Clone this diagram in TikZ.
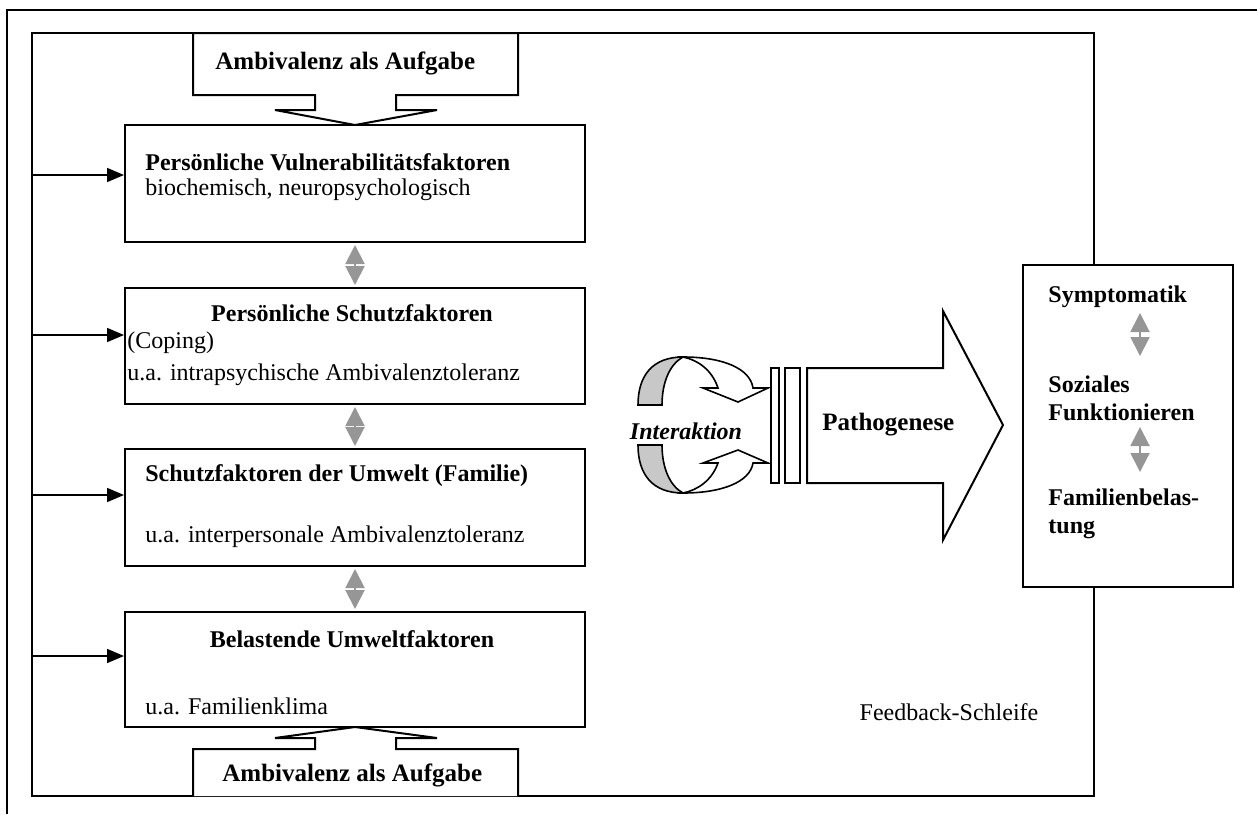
\documentclass[tikz,border=0pt]{standalone}
\usepackage{fontspec}
\setmainfont{Liberation Serif}
\usetikzlibrary{arrows.meta}
\definecolor{dgray}{RGB}{150,150,150}
\definecolor{cgray}{RGB}{200,200,200}
\begin{document}
\begin{tikzpicture}[x=0.5pt,y=-0.5pt,
  every node/.style={font=\fontsize{12}{14}\selectfont},
  box/.style={draw,line width=1pt,minimum width=230pt,inner sep=0pt},
  txt/.style={inner sep=0pt,anchor=west},
  bold/.style={font=\fontsize{12}{14}\selectfont\bfseries},
  btxt/.style={inner sep=0pt,bold},
  rtxt/.style={inner sep=0pt,anchor=base west,bold},
  dbl/.style={draw=dgray,line width=1pt,{Triangle[width=9.5pt,length=9.5pt]}-{Triangle[width=9.5pt,length=9.5pt]},dgray,shorten <=1pt,shorten >=1pt},
  fb/.style={line width=0.8pt,-{Triangle[width=7pt,length=8.5pt]}},
  frame/.style={line width=1pt}]
\useasboundingbox (0,0) rectangle (1257,814);
% outer page frame
\draw[frame] (7,814) -- (7,10) -- (1257,10);
% feedback loop frame
\coordinate (ftop) at (1094,33);
\coordinate (fbot) at (1094,796);
\draw[frame] (1094,265) -- (ftop) -- (32,33) -- (32,796) -- (fbot) -- (1094,587);
% factor boxes
\node[box,minimum height=58.5pt] (b1) at (355,183.5) {};
\node[box,minimum height=58pt] (b2) at (355,346) {};
\node[box,minimum height=58.5pt] (b3) at (355,507.5) {};
\node[box,minimum height=57.5pt] (b4) at (355,669.5) {};
% texts
\node[txt,bold] (t1) at (145,162) {Persönliche Vulnerabilitätsfaktoren};
\node[txt] (s1) at (145,190) {biochemisch, neuropsychologisch};
\node[btxt] (t2) at (352,313) {Persönliche Schutzfaktoren};
\node[txt] (c2) at (127,343) {(Coping)};
\node[txt] (s2) at (127,375) {u.a. intrapsychische Ambivalenztoleranz};
\node[txt,bold] (t3) at (145,476) {Schutzfaktoren der Umwelt (Familie)};
\node[txt] (s3) at (145,537) {u.a. interpersonale Ambivalenztoleranz};
\node[btxt] (t4) at (352,639) {Belastende Umweltfaktoren};
\node[txt] (s4) at (145,706) {u.a. Familienklima};
% grey double arrows
\draw[dbl] (b1.south) -- (b2.north);
\draw[dbl] (b2.south) -- (b3.north);
\draw[dbl] (b3.south) -- (b4.north);
% feedback arrows
\coordinate (f1) at (32,175);
\coordinate (f2) at (32,335);
\coordinate (f3) at (32,495);
\coordinate (f4) at (32,656);
\draw[fb] (f1) -- (f1 -| b1.west);
\draw[fb] (f2) -- (f2 -| b2.west);
\draw[fb] (f3) -- (f3 -| b3.west);
\draw[fb] (f4) -- (f4 -| b4.west);
% Ambivalenz callouts
\draw[line width=1pt,fill=white] (193,33) -- (518,33) -- (518,95) -- (396,95) -- (396,110) -- (437,110) -- (355,125) -- (275,110) -- (315,110) -- (315,95) -- (193,95) -- cycle;
\node[txt,font=\fontsize{12.5}{14}\selectfont\bfseries] (a1) at (215,63) {Ambivalenz als Aufgabe};
\draw[line width=1pt,fill=white] (193,796) -- (193,749) -- (315,749) -- (315,738) -- (275,738) -- (355,727) -- (437,738) -- (396,738) -- (396,749) -- (518,749) -- (518,796);
\node[txt,font=\fontsize{12.5}{14}\selectfont\bfseries] (a2) at (222,775) {Ambivalenz als Aufgabe};
% interaction arrows
\draw[line width=0.8pt,fill=cgray] (683,357) .. controls (653,357) and (638,375) .. (638,405) -- (662,405) .. controls (662,382) and (670,364) .. (683,357) -- cycle;
\draw[line width=0.8pt,fill=white] (683,357) .. controls (722,357) and (750,368) .. (753,388) -- (768,388) -- (738,402) -- (703,388) -- (718,388) .. controls (712,370) and (698,360) .. (683,357) -- cycle;
\draw[line width=0.8pt,fill=cgray] (683,493) .. controls (653,493) and (638,475) .. (638,445) -- (662,445) .. controls (662,468) and (670,486) .. (683,493) -- cycle;
\draw[line width=0.8pt,fill=white] (683,493) .. controls (722,493) and (750,482) .. (753,463) -- (768,463) -- (738,450) -- (703,463) -- (718,463) .. controls (712,480) and (698,490) .. (683,493) -- cycle;
\node[inner sep=0pt,font=\fontsize{12}{14}\selectfont\bfseries\itshape] (ia) at (686,431) {Interaktion};
% Pathogenese arrow
\draw[line width=1pt] (771,368) rectangle (779,483);
\draw[line width=1pt] (785,368) rectangle (800,483);
\draw[line width=1pt] (807,368) -- (943,368) -- (943,311) -- (1003,425) -- (943,540) -- (943,483) -- (807,483) -- cycle;
\node[txt,font=\fontsize{12.5}{14}\selectfont\bfseries] (pg) at (822,425) {Pathogenese};
% outcome box
\node[box,minimum width=105pt,minimum height=161pt] (sym) at (1128,426) {};
\node[rtxt] (o1) at (1048,302) {Symptomatik};
\node[rtxt] (o2) at (1048,392) {Soziales};
\node[rtxt] (o3) at (1048,420) {Funktionieren};
\node[rtxt] (o4) at (1048,505) {Familienbelas-};
\node[rtxt] (o5) at (1048,533) {tung};
\coordinate (p1) at (1140,313);
\coordinate (p2) at (1140,356);
\coordinate (p3) at (1140,427);
\coordinate (p4) at (1140,472);
\draw[dbl,shorten <=0pt,shorten >=0pt] (p1) -- (p2);
\draw[dbl,shorten <=0pt,shorten >=0pt] (p3) -- (p4);
% feedback label
\node[inner sep=0pt] (fs) at (949,712) {Feedback-Schleife};
\end{tikzpicture}
\end{document}
